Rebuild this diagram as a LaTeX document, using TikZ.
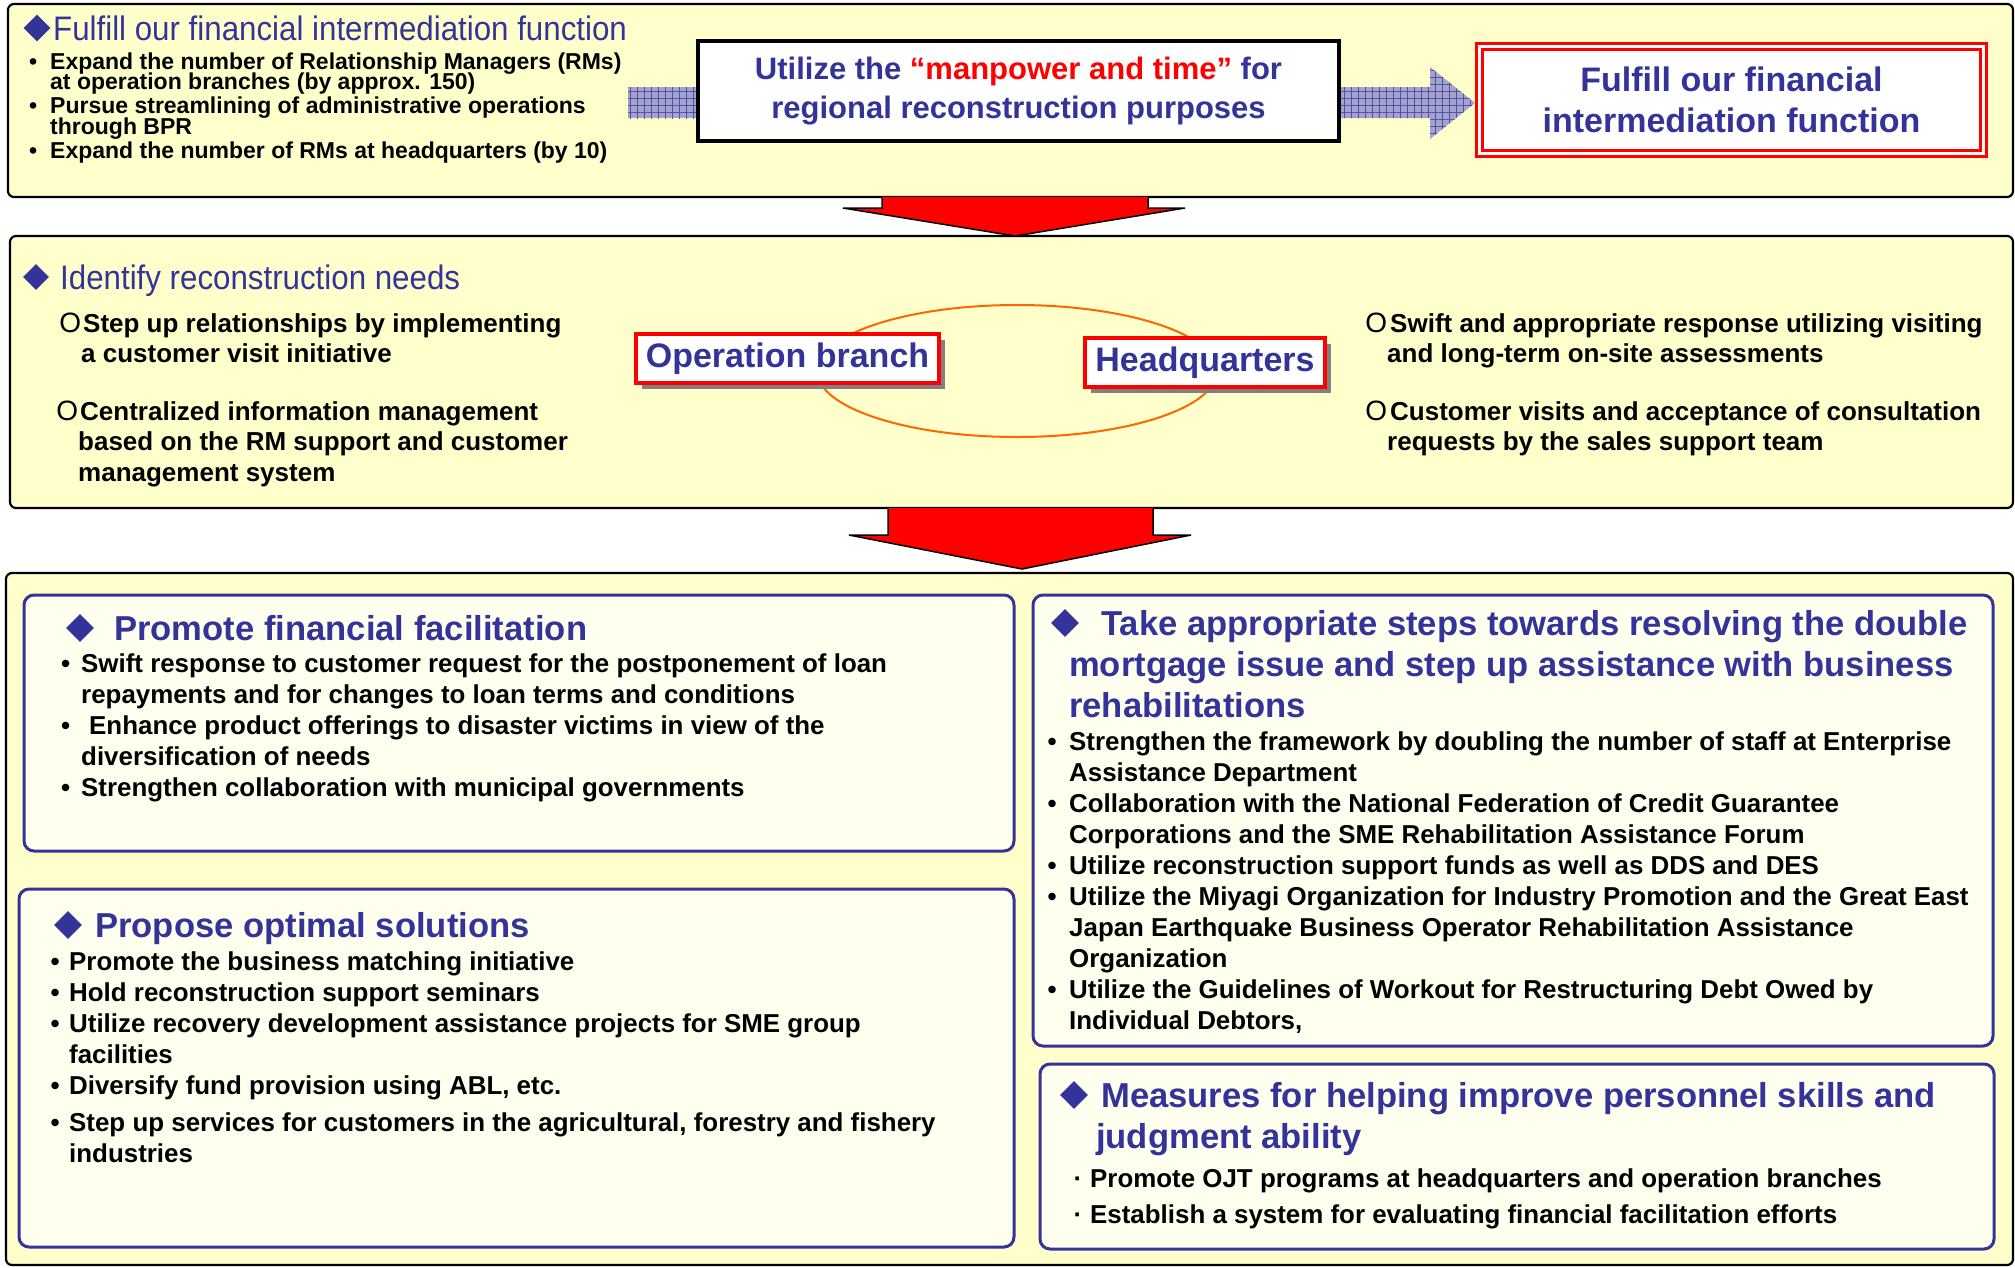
\documentclass[tikz,border=0pt]{standalone}
\usepackage{fontspec}
\setmainfont{Liberation Sans}
\newfontfamily\narrowfont{Liberation Sans}[FakeStretch=0.92]
\usetikzlibrary{patterns.meta,shadows,shapes.geometric}
\definecolor{tblue}{HTML}{333399}
\definecolor{pfill}{HTML}{FFFFCC}
\definecolor{bfill}{HTML}{FFFFF0}
\definecolor{hatch}{HTML}{A3A3CC}
\definecolor{hatchline}{HTML}{5050A8}
\definecolor{ellc}{HTML}{FF6600}
\newcommand\tightlines{\setlength{\lineskiplimit}{-50pt}\setlength{\lineskip}{0pt}}
\tikzset{
  panel/.style={draw=black, line width=2.2pt, fill=pfill, rounded corners=6pt, inner sep=0pt},
  subbox/.style={draw=tblue, line width=3pt, fill=bfill, rounded corners=10pt, inner sep=0pt},
  dia/.style={shape=diamond, fill=tblue, inner sep=0pt, minimum width=#1, minimum height=#1},
  ttl/.style={inner sep=0pt, anchor=base west, text=tblue, font=\narrowfont\fontsize{34}{40}\selectfont},
  btitle/.style={inner sep=0pt, anchor=base west, align=left, text=tblue, font=\bfseries\fontsize{34.6}{41}\selectfont},
  tbody/.style={inner sep=0pt, anchor=base west, align=left, font=\bfseries\fontsize{23}{20.5}\selectfont\tightlines},
  pbody/.style={inner sep=0pt, anchor=base west, align=left, font=\bfseries\fontsize{26}{30.5}\selectfont},
  body/.style={inner sep=0pt, anchor=base west, align=left, font=\bfseries\fontsize{25.9}{31}\selectfont},
  redtag/.style={draw=red, line width=3.5pt, fill=white, inner sep=0pt, text=tblue,
    font=\bfseries\fontsize{34}{40}\selectfont,
    drop shadow={shadow xshift=6pt, shadow yshift=-6pt, fill=gray, opacity=1}},
  redarrow/.style={fill=red},
  redoutline/.style={draw=black, line width=1.5pt, line join=miter},
}
\newcommand\bul[1]{\llap{\textbullet\hspace{#1pt}}}
\newcommand\circmark{\llap{\mdseries\fontsize{28}{30}\selectfont O}}
\begin{document}
\begin{tikzpicture}[x=1pt,y=-1pt]
\useasboundingbox (0,0) rectangle (2015,1267);
\fill[white] (0,0) rectangle (2015,1267);

% ---------- panels
\node[panel, minimum width=2005, minimum height=193] (p1) at (1010.5,100.5) {};
\node[panel, minimum width=2003, minimum height=272] (p2) at (1011.5,372) {};
\node[panel, minimum width=2007, minimum height=692] (p3) at (1009.5,919) {};

% ---------- red block arrows between panels
\coordinate (a1) at (1015,236);
\coordinate (a2) at (1022,569);
\fill[redarrow] (882,197) -- (1148,197) -- (1148,208) -- (1185,208) -- (a1) -- (843,208) -- (882,208) -- cycle;
\draw[redoutline] (1148,198) -- (1148,208) -- (1185,208) -- (a1) -- (843,208) -- (882,208) -- (882,198);
\fill[redarrow] (888,508) -- (1153,508) -- (1153,535) -- (1191,535) -- (a2) -- (849,535) -- (888,535) -- cycle;
\draw[redoutline] (1153,509) -- (1153,535) -- (1191,535) -- (a2) -- (849,535) -- (888,535) -- (888,509);

% ---------- top panel (multi-line nodes are placed by the baseline of their LAST line)
\node[dia=27] (d1) at (37,28) {};
\node[ttl] (t1) at (53,40) {Fulfill our financial intermediation function};
\node[tbody] (t1b) at (50,158) {\bul{13}Expand the number of Relationship Managers (RMs)\\at operation branches (by approx. 150)\\[3.5pt]
\bul{13}Pursue streamlining of administrative operations\\through BPR\\[3.5pt]
\bul{13}Expand the number of RMs at headquarters (by 10)};

% hatched bar and arrow
\fill[hatch] (628,87) rectangle (700,118);
\fill[hatch] (1337,87) -- (1430,87) -- (1430,67) -- (1475,103) -- (1430,139) -- (1430,118) -- (1337,118) -- cycle;
\foreach \ang in {0,90}{
  \fill[pattern={Lines[angle=\ang,distance=7pt,line width=0.8pt]}, pattern color=hatchline] (628,87) rectangle (700,118);
  \fill[pattern={Lines[angle=\ang,distance=7pt,line width=0.8pt]}, pattern color=hatchline] (1337,87) -- (1430,87) -- (1430,67) -- (1475,103) -- (1430,139) -- (1430,118) -- (1337,118) -- cycle;
}

\node[draw=black, line width=3.5pt, fill=white, minimum width=641, minimum height=100, inner sep=0pt,
  align=center, text=tblue, font=\bfseries\fontsize{31}{39}\selectfont] (mid) at (1018.5,91)
  {Utilize the {\color{red}“manpower and time”} for\\regional reconstruction purposes};

\node[draw=red, double=white, line width=2.5pt, double distance=3.5pt, fill=white,
  minimum width=504, minimum height=107, inner sep=0pt, align=center, text=tblue,
  font=\bfseries\fontsize{34}{41}\selectfont] (goal) at (1731.5,100)
  {Fulfill our financial\\intermediation function};

% ---------- second panel
\node[dia=26] (d2) at (36,277) {};
\node[ttl] (t2) at (60,289) {Identify reconstruction needs};
\node[pbody] (l1) at (81,362.5) {\circmark\hspace{2pt}Step up relationships by implementing\\a customer visit initiative};
\node[pbody] (l2) at (78,481) {\circmark\hspace{2pt}Centralized information management\\based on the RM support and customer\\management system};
\node[pbody] (r1) at (1387,362.5) {\circmark\hspace{3pt}Swift and appropriate response utilizing visiting\\and long-term on-site assessments};
\node[pbody] (r2) at (1387,450.5) {\circmark\hspace{3pt}Customer visits and acceptance of consultation\\requests by the sales support team};

\node[ellipse, draw=ellc, line width=2pt, minimum width=400, minimum height=132, inner sep=0pt] (cyc) at (1017,371) {};
\node[redtag, minimum width=303, minimum height=49] (ob) at (787.5,358.5) {Operation branch};
\node[redtag, minimum width=240, minimum height=49] (hq) at (1205,362.5) {Headquarters};

% ---------- third panel boxes
\node[subbox, minimum width=990, minimum height=256] (bA) at (519,723) {};
\node[subbox, minimum width=995, minimum height=358] (bB) at (516.5,1068) {};
\node[subbox, minimum width=960, minimum height=451] (bC) at (1513,820.5) {};
\node[subbox, minimum width=954, minimum height=185] (bD) at (1517,1156.5) {};

% box A
\node[dia=28] (dA) at (80,628) {};
\node[btitle] (tA) at (114,640) {Promote financial facilitation};
\node[body] (xA) at (81,796) {\bul{11}Swift response to customer request for the postponement of loan\\
repayments and for changes to loan terms and conditions\\
\bul{11}\hspace{8pt}Enhance product offerings to disaster victims in view of the\\
diversification of needs\\
\bul{11}Strengthen collaboration with municipal governments};

% box B
\node[dia=28] (dB) at (68,925) {};
\node[btitle] (tB) at (95,937) {Propose optimal solutions};
\node[body] (xB) at (69,1162) {\bul{9.5}Promote the business matching initiative\\
\bul{9.5}Hold reconstruction support seminars\\
\bul{9.5}Utilize recovery development assistance projects for SME group\\
facilities\\
\bul{9.5}Diversify fund provision using ABL, etc.\\[6pt]
\bul{9.5}Step up services for customers in the agricultural, forestry and fishery\\
industries};

% box C
\node[dia=28] (dC) at (1065,623) {};
\node[btitle] (tC) at (1069,717) {\hspace{32pt}Take appropriate steps towards resolving the double\\
mortgage issue and step up assistance with business\\
rehabilitations};
\node[body] (xC) at (1069,1029) {\bul{12.5}Strengthen the framework by doubling the number of staff at Enterprise\\
Assistance Department\\
\bul{12.5}Collaboration with the National Federation of Credit Guarantee\\
Corporations and the SME Rehabilitation Assistance Forum\\
\bul{12.5}Utilize reconstruction support funds as well as DDS and DES\\
\bul{12.5}Utilize the Miyagi Organization for Industry Promotion and the Great East\\
Japan Earthquake Business Operator Rehabilitation Assistance\\
Organization\\
\bul{12.5}Utilize the Guidelines of Workout for Restructuring Debt Owed by\\
Individual Debtors,};

% box D
\node[dia=28] (dD) at (1074,1095) {};
\node[btitle] (tD) at (1096,1148) {\hspace{5pt}Measures for helping improve personnel skills and\\judgment ability};
\node[body, font=\bfseries\fontsize{25.9}{36}\selectfont] (xD) at (1090,1223) {\llap{·\hspace{8pt}}Promote OJT programs at headquarters and operation branches\\
\llap{·\hspace{8pt}}Establish a system for evaluating financial facilitation efforts};
\end{tikzpicture}
\end{document}
